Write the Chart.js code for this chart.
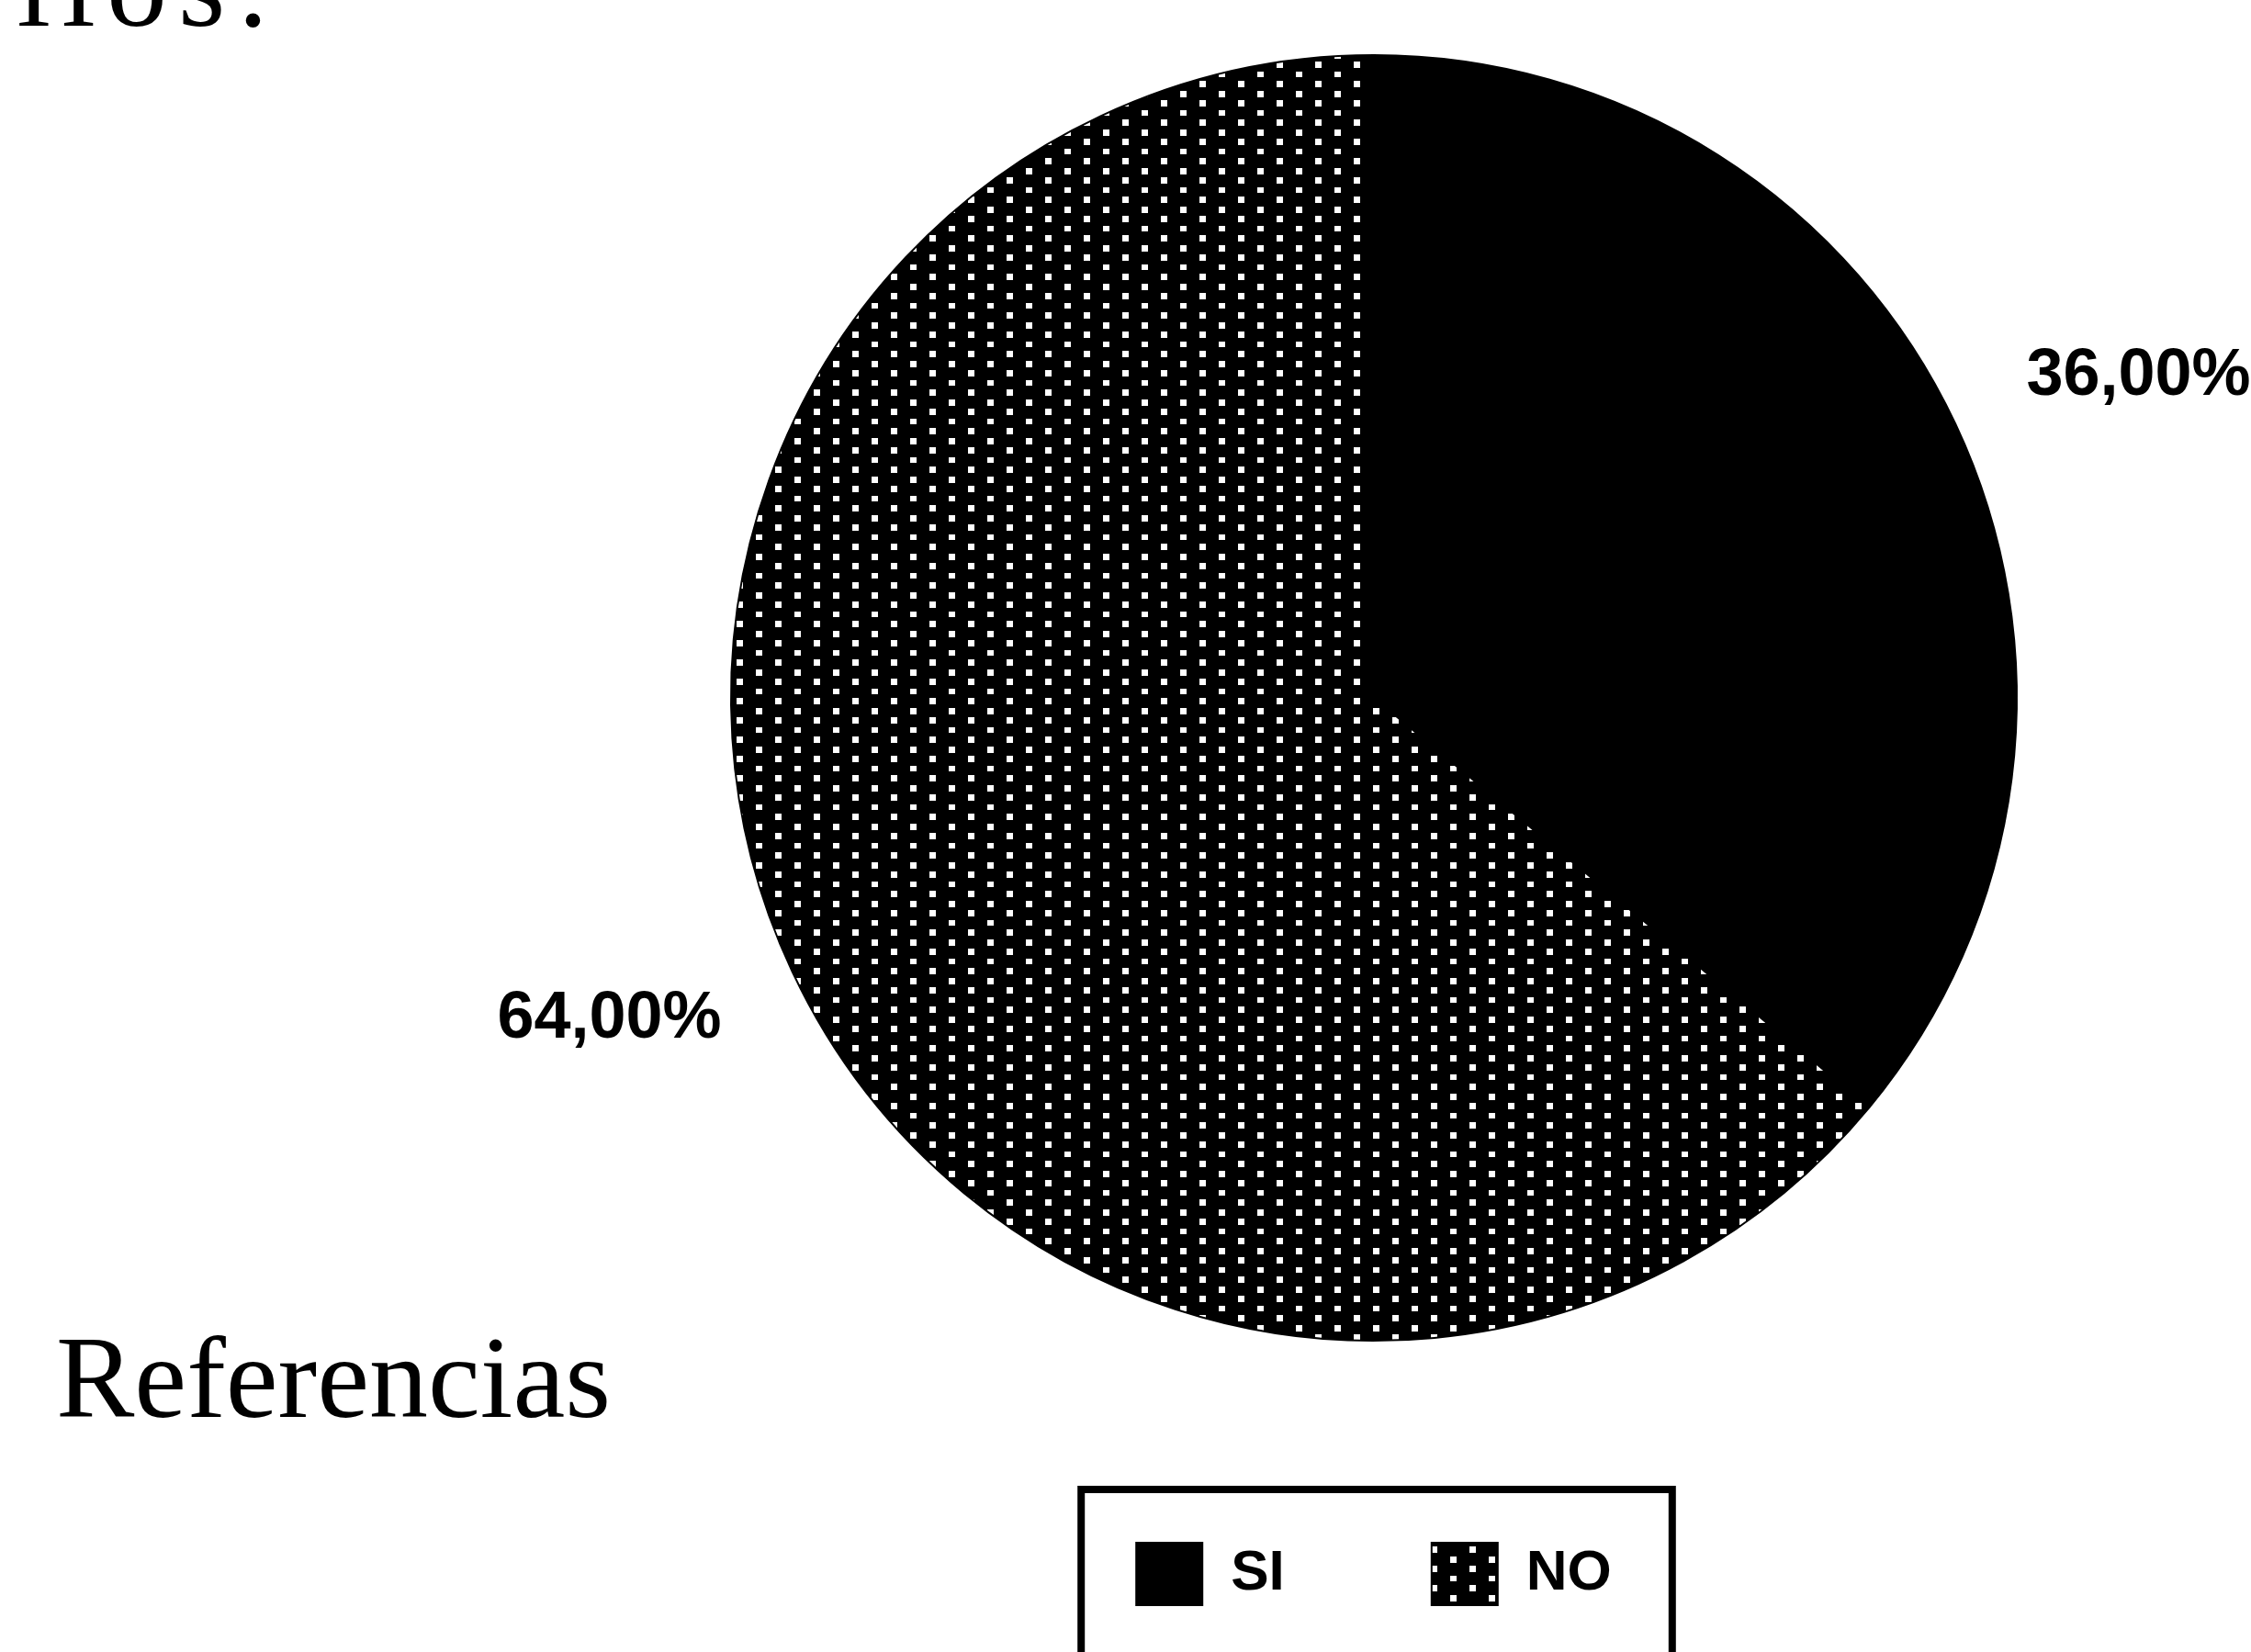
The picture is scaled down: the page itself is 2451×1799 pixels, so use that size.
<!DOCTYPE html>
<html lang="es">
<head>
<meta charset="utf-8">
<title>Referencias</title>
<script src="https://cdn.jsdelivr.net/npm/chart.js@4.4.1/dist/chart.umd.min.js"></script>
<style>
  html, body { margin: 0; padding: 0; background: #fff; }
  .chart-wrap { position: relative; width: 2451px; height: 1799px; }
</style>
</head>
<body>
<div class="chart-wrap"><canvas id="pieChart"></canvas></div>
<script>
const categories = ['SI', 'NO'];
const percentages = [36, 64];
const headingText = 'ellos:';
const captionText = 'Referencias';

const fmt = (v) => v.toFixed(2).replace('.', ',') + '%';

// black fill with staggered white dots, like the scanned screen tone
function dotPattern() {
  const tile = document.createElement('canvas');
  tile.width = 42;
  tile.height = 42;
  const c = tile.getContext('2d');
  c.fillStyle = '#000';
  c.fillRect(0, 0, 42, 42);
  c.fillStyle = '#fff';
  [[4, 4], [4, 25], [25, 15], [25, 36]].forEach(([x, y]) => c.fillRect(x, y, 7, 7));
  return c.createPattern(tile, 'repeat');
}

const pageDecor = {
  id: 'pageDecor',
  afterDatasetsDraw(chart) {
    const { ctx } = chart;
    const meta = chart.getDatasetMeta(0);
    ctx.save();
    ctx.fillStyle = '#000';
    ctx.font = 'bold 72px "Liberation Sans", Arial, sans-serif';
    ctx.textAlign = 'center';
    ctx.textBaseline = 'middle';
    meta.data.forEach((arc, i) => {
      const p = arc.getProps(['x', 'y', 'startAngle', 'endAngle', 'outerRadius'], true);
      // the printed labels sit a touch clockwise of each slice's middle
      const mid = (p.startAngle + p.endAngle) / 2 + 0.042;
      const r = p.outerRadius * 1.29;
      ctx.fillText(fmt(percentages[i]), p.x + Math.cos(mid) * r, p.y + Math.sin(mid) * r);
    });
    ctx.restore();
  },
  afterDraw(chart) {
    const { ctx } = chart;
    ctx.save();
    ctx.fillStyle = '#000';
    ctx.strokeStyle = '#000';

    // frame round the legend, runs off the bottom of the page
    const boxes = chart.legend.legendHitBoxes;
    if (boxes.length) {
      const first = boxes[0];
      const last = boxes[boxes.length - 1];
      ctx.lineWidth = 8;
      ctx.strokeRect(first.left - 60, first.top - 58, last.left + last.width - first.left + 126, 400);
    }

    ctx.textBaseline = 'alphabetic';
    ctx.textAlign = 'left';
    ctx.font = '132px "Liberation Serif", "Times New Roman", serif';
    ctx.letterSpacing = '12px';
    ctx.fillText(headingText, -52, 28);
    ctx.letterSpacing = '0px';
    ctx.font = '128px "Liberation Serif", "Times New Roman", serif';
    ctx.textAlign = 'right';
    ctx.fillText(captionText, 665, 1543);
    ctx.restore();
  }
};

const canvas = document.querySelector('#pieChart');
new Chart(canvas, {
  type: 'pie',
  data: {
    labels: categories,
    datasets: [{
      data: percentages,
      backgroundColor: ['#000', dotPattern()],
      borderColor: '#000',
      borderWidth: 2,
      radius: 700
    }]
  },
  options: {
    responsive: true,
    maintainAspectRatio: false,
    animation: false,
    layout: { padding: { left: 541, right: 0, top: 0, bottom: 41 } },
    plugins: {
      tooltip: { enabled: false },
      legend: {
        position: 'bottom',
        labels: {
          boxWidth: 72,
          boxHeight: 68,
          padding: 160,
          color: '#000',
          font: { family: '"Liberation Sans", Arial, sans-serif', size: 62, weight: 'bold' }
        }
      }
    }
  },
  plugins: [pageDecor]
});
</script>
</body>
</html>
